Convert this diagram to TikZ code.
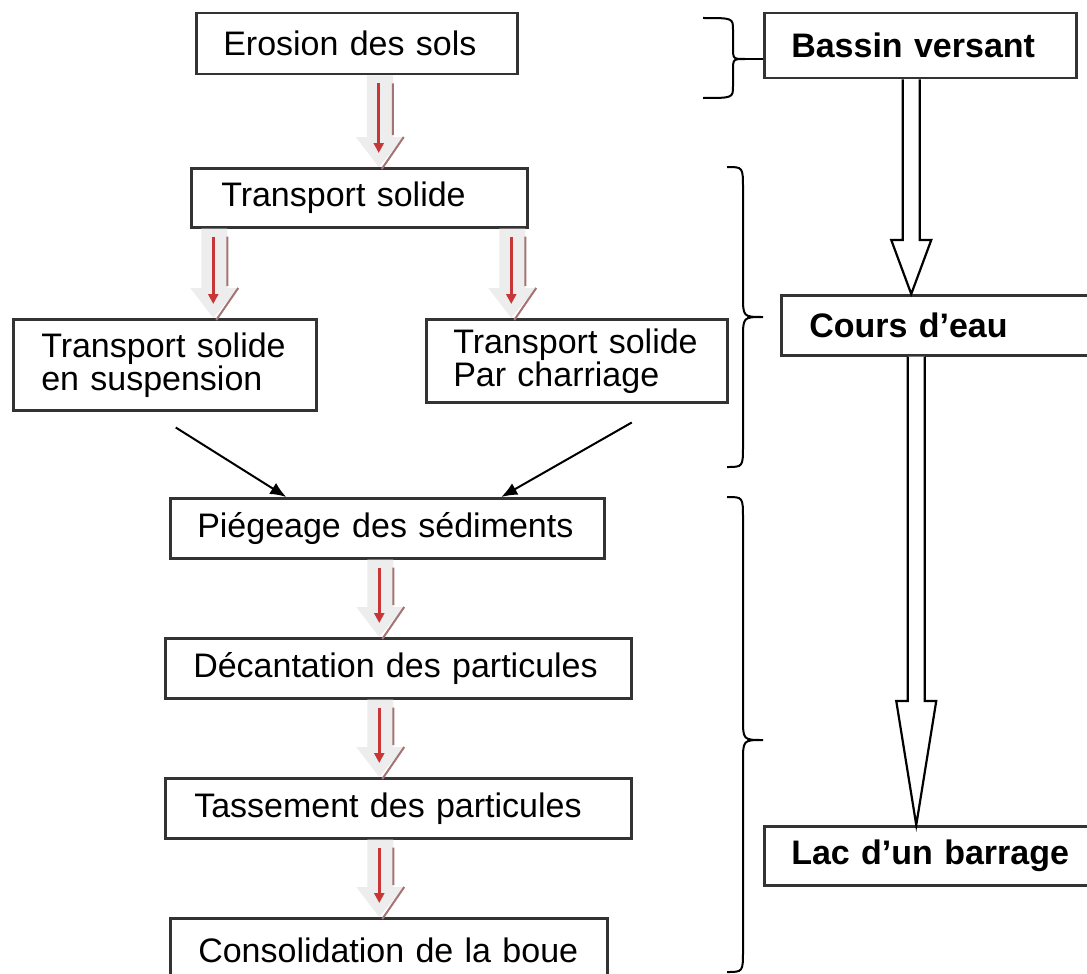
\documentclass[tikz,border=0pt]{standalone}
\usepackage{fontspec}
\setmainfont{Liberation Sans}
\usetikzlibrary{calc}
\usetikzlibrary{arrows.meta}

\definecolor{rougefleche}{RGB}{200,55,55}
\definecolor{ombrefleche}{RGB}{165,115,115}

\tikzset{
  boite/.style={draw=black!80, line width=2.5pt, fill=white, anchor=north west, align=left, inner ysep=0pt, font=\fontsize{34}{33}\selectfont},
  titre/.style={boite, font=\fontsize{34}{33}\selectfont\bfseries},
  fleche/.style={line width=2pt, -{Latex[length=16pt,width=13pt]}},
}

\newcommand{\flecherouge}[2]{%
  \fill[black!7] let \p1=(#1), \p2=(#2) in
    (\x1-12pt,\y1) -- (\x1+14pt,\y1) -- (\x1+14pt,\y2+30pt) -- (\x1+25pt,\y2+30pt) -- (\x1,\y2) -- (\x1-23pt,\y2+30pt) -- (\x1-12pt,\y2+30pt) -- cycle;
  \draw[ombrefleche, line width=2pt] let \p1=(#1), \p2=(#2) in
    (\x1+14pt,\y1-8pt) -- (\x1+14pt,\y2+32pt) (\x1+25pt,\y2+30pt) -- (\x1+3pt,\y2-2pt);
  \draw[rougefleche, line width=3pt, -{Triangle[length=10pt,width=10pt]}] let \p1=(#1), \p2=(#2) in
    (\x1,\y1-8pt) -- (\x1,\y2+14pt);
}

\newcommand{\flechecreuse}[3]{%
  \draw[line width=2.2pt, fill=white, line join=miter] let \p1=(#1), \p2=(#2) in
    (\x1-8.5pt,\y1) -- (\x1-8.5pt,\y2+#3) -- (\x1-20pt,\y2+#3) -- (\x1,\y2) -- (\x1+20pt,\y2+#3) -- (\x1+8.5pt,\y2+#3) -- (\x1+8.5pt,\y1);
}

\newcommand{\accolade}[7]{%
  \draw[line width=2pt] (#1,#4) .. controls (#2,#4) .. (#2,#4+#7) -- (#2,#5-#7) .. controls (#2,#5) .. (#3,#5)
    .. controls (#2,#5) .. (#2,#5+#7) -- (#2,#6-#7) .. controls (#2,#6) .. (#1,#6);
}

\begin{document}
\begin{tikzpicture}[x=1pt, y=-1pt]
  \useasboundingbox (0,0) rectangle (1087,974);
  \clip (0,0) rectangle (1087,974);

  \node[boite, minimum height=61, inner xsep=27, text width=267] (erosion) at (195,12) {Erosion des sols};
  \node[boite, minimum height=59, inner xsep=30, text width=276] (transport) at (190,167) {Transport solide};
  \node[boite, minimum height=91, inner xsep=28, text width=247] (suspension) at (12,318) {Transport solide\\en suspension};
  \node[boite, minimum height=83, inner xsep=27, text width=247] (charriage) at (425,318) {Transport solide\\Par charriage};
  \node[boite, minimum height=60, inner xsep=27, text width=380] (piegeage) at (169,497) {Piégeage des sédiments};
  \node[boite, minimum height=60, inner xsep=28, text width=410] (decantation) at (164,637) {Décantation des particules};
  \node[boite, minimum height=60, inner xsep=29, text width=408] (tassement) at (164,777) {Tassement des particules};
  \node[boite, minimum height=64, inner xsep=28, text width=381] (consolidation) at (169,917) {Consolidation de la boue};

  \node[titre, minimum height=65, inner xsep=27, text width=258] (bassin) at (763,12) {Bassin versant};
  \node[titre, minimum height=60, inner xsep=28, text width=274] (cours) at (780,294) {Cours d’eau};
  \node[titre, minimum height=59, inner xsep=27, text width=286] (lac) at (763,825) {Lac d’un barrage};

  \flecherouge{[xshift=22pt]erosion.south}{transport.north}
  \flecherouge{[xshift=-146pt]transport.south}{suspension.north}
  \flecherouge{[xshift=152pt]transport.south}{charriage.north}
  \flecherouge{[xshift=-8pt]piegeage.south}{decantation.north}
  \flecherouge{[xshift=-19pt]decantation.south}{tassement.north}
  \flecherouge{[xshift=-19pt]tassement.south}{consolidation.north}

  \draw[fleche] ([xshift=11pt,yshift=-16pt]suspension.south) -- ([xshift=-101pt]piegeage.north);
  \draw[fleche] ([xshift=55pt,yshift=-19pt]charriage.south) -- ([xshift=114pt]piegeage.north);

  \flechecreuse{[xshift=-9pt]bassin.south}{cours.north}{54pt}
  \flechecreuse{[xshift=-30pt]cours.south}{lac.north}{124pt}

  \accolade{703}{733}{745}{18}{59}{98}{12}
  \coordinate (pointe) at (745,59);
  \draw[line width=2pt] (pointe) -- (pointe -| bassin.west);
  \accolade{727}{743}{763}{167}{317}{467}{22}
  \accolade{727}{743}{763}{497}{740}{972}{22}
\end{tikzpicture}
\end{document}
